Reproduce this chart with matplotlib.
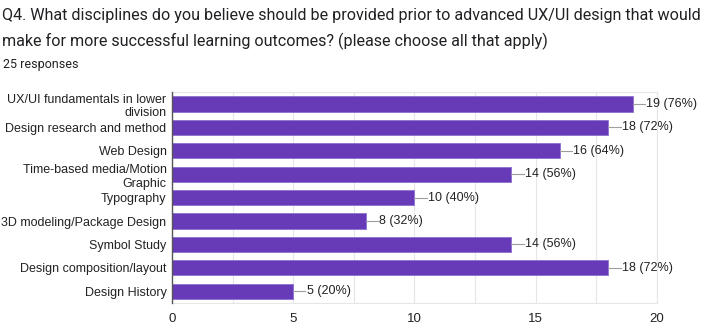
import numpy as np
import matplotlib.pyplot as plt
from matplotlib.ticker import MultipleLocator

# Respostas da pergunta Q4
categorias = [
    "UX/UI fundamentals in lower\ndivision",
    "Design research and method",
    "Web Design",
    "Time-based media/Motion\nGraphic",
    "Typography",
    "3D modeling/Package Design",
    "Symbol Study",
    "Design composition/layout",
    "Design History",
]
contagens = [19, 18, 16, 14, 10, 8, 14, 18, 5]
total = 25

titulo = ("Q4. What disciplines do you believe should be provided prior to advanced UX/UI design that would\n"
          "make for more successful learning outcomes? (please choose all that apply)")
subtitulo = "25 responses"

#--------------------------------------------------------------------------
# Figura
#--------------------------------------------------------------------------
fig = plt.figure(figsize=(7.14, 3.24), dpi=100)
ax = fig.add_axes([0.241, 0.065, 0.679, 0.650])

roxo = '#673ab7'
y = np.arange(len(categorias))
ax.barh(y, contagens, height=0.65, color=roxo, edgecolor='#8e6fd0', linewidth=0.6, zorder=3)

# rótulos com linha de chamada
for yi, c in zip(y, contagens):
    pct = round(100 * c / total)
    ax.plot([c, c + 0.5], [yi, yi], color='#9e9e9e', lw=0.8, zorder=3)
    ax.text(c + 0.55, yi, f"{c} ({pct}%)", va='center', ha='left',
            fontsize=9, family='Liberation Sans', color='#222222')

ax.set_xlim(0, 20)
ax.set_ylim(len(categorias) - 0.5, -0.5)
ax.set_yticks(y)
ax.set_yticklabels(categorias, fontsize=9, family='Liberation Sans', color='#222222')
ax.xaxis.set_major_locator(MultipleLocator(5))
ax.xaxis.set_minor_locator(MultipleLocator(2.5))
for lab in ax.get_xticklabels():
    lab.set_family('Liberation Sans')
ax.tick_params(axis='x', labelsize=9.5, length=0, labelcolor='#222222', pad=7, which='both')
ax.tick_params(axis='y', length=0, pad=4)

ax.grid(axis='x', which='both', color='#e6e6e6', lw=0.8, zorder=0)
for s in ['top', 'bottom', 'right']:
    ax.spines[s].set_color('#e6e6e6')
    ax.spines[s].set_linewidth(0.8)
ax.spines['left'].set_color('#555555')
ax.spines['left'].set_linewidth(1.0)
ax.spines['left'].set_zorder(4)

fig.text(0.003, 0.975, titulo, ha='left', va='top', fontsize=11.6, family='Roboto',
         color='#202124', linespacing=1.75)
fig.text(0.004, 0.822, subtitulo, ha='left', va='top', fontsize=9, family='Roboto',
         color='#202124')

fig.savefig('out.png', dpi=100)
